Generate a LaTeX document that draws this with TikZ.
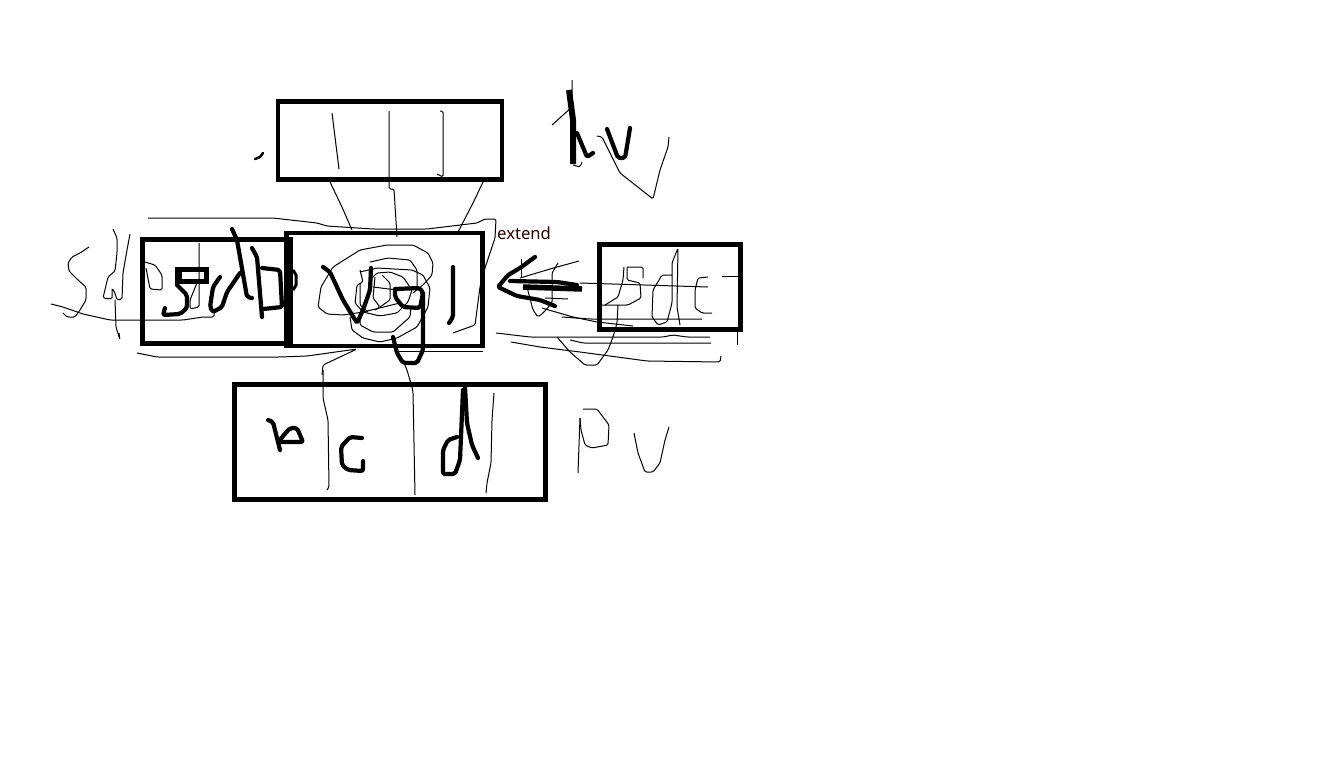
\documentclass[tikz,border=0pt]{standalone}
\usepackage{fontspec}
\newfontfamily\labelfont{Noto Sans}
\tikzset{
  boxframe/.style={draw=black,line width=4.8pt,fill=none,inner sep=0pt,outer sep=0pt},
  thinstroke/.style={draw=black,line width=1pt,line join=round,rounded corners=1.5pt},
  thickstroke/.style={draw=black,line width=4.2pt,line join=round,line cap=round,rounded corners=2pt}
}
\begin{document}
\begin{tikzpicture}[x=1pt,y=-1pt]
\path[use as bounding box,fill=white] (0,0) rectangle (1344,769);

% boxes
\node[boxframe,minimum width=224pt,minimum height=78pt] (topbox) at (390,140.5) {};
\node[boxframe,minimum width=148pt,minimum height=104pt] (leftbox) at (216.5,291.5) {};
\node[boxframe,minimum width=196pt,minimum height=113pt] (midbox) at (384.5,289.5) {};
\node[boxframe,minimum width=141.5pt,minimum height=85pt] (rightbox) at (670,287) {};
\node[boxframe,minimum width=311pt,minimum height=115pt] (bottombox) at (390,442) {};
\node[inner sep=0pt,anchor=base west,text=black!85!red] (extendlabel) at (497,239) {\labelfont\fontsize{16.6}{18}\selectfont extend};

% top box
\draw[thinstroke] (332,113) -- (335,137) -- (339,169);
\draw[thinstroke] (389,111) -- (389,189) -- (394,189) -- (397,237);
\draw[thinstroke] (440,111) -- (443,111) -- (443,177) -- (437,174);
\draw[thinstroke] (330,182) -- (342,207) -- (352,230);
\draw[thinstroke] (483,182) -- (473,203) -- (458,232);
\draw[draw=black,line width=2.5pt,line cap=round] (255,159) -- (260,157) -- (263,153);

% hv
\draw[draw=black,line width=6pt,line join=round] (569,90) -- (573,120) -- (573,164);
\draw[thickstroke] (577,133) -- (587,157) -- (593,153);
\draw[thickstroke] (607,129) -- (618,158) -- (625,158) -- (630,128);
\draw[thinstroke] (572,80) -- (572,107) -- (552,125);
\draw[thinstroke] (573,165) -- (580,167) -- (582,162);
\draw[thinstroke] (597,136) -- (602,137) -- (620,173) -- (653,199) -- (660,170) -- (668,147) -- (669,137);

% left box
\draw[thinstroke] (89,247) -- (80,253) -- (72,257) -- (68,263) -- (69,271) -- (78,280) -- (86,287) -- (86,300) -- (80,310) -- (75,317) -- (67,317) -- (63,313);
\draw[thinstroke] (51,304) -- (63,307) -- (83,314) -- (110,320) -- (183,320) -- (203,317) -- (214,317) -- (214,313);
\draw[thinstroke] (113,229) -- (117,238) -- (117,253) -- (115,271) -- (108,277) -- (103,298) -- (112,299) -- (112,288) -- (115,293) -- (117,300) -- (122,299) -- (123,273) -- (127,250) -- (130,234);
\draw[thinstroke] (115,300) -- (116,327) -- (120,340) -- (119,333);
\draw[thinstroke] (199,243) -- (199,307) -- (190,309) -- (190,300) -- (197,283);
\draw[thinstroke] (145,262) -- (155,265) -- (162,275) -- (162,290) -- (150,289) -- (146,268);
\draw[thinstroke] (148,218) -- (240,218) -- (273,218) -- (317,223) -- (327,226) -- (373,229) -- (427,229) -- (460,225) -- (477,223) -- (485,219) -- (496,219) -- (495,238) -- (485,268) -- (480,287) -- (475,325) -- (453,333);
\draw[thinstroke] (137,353) -- (157,357) -- (280,357) -- (307,356) -- (357,349) -- (323,365) -- (322,375);
\draw[thinstroke] (397,351) -- (483,351);
\draw[draw=black,line width=5pt] (179,269.5) rectangle (206.5,281);
\draw[draw=black,line width=7pt] (178.5,267) -- (178.5,284);
\draw[thickstroke] (177,285) -- (187,295) -- (187,308) -- (180,314) -- (163,315) -- (165,308);
\draw[thickstroke] (220,277) -- (213,287) -- (210,307) -- (213,312) -- (222,307) -- (227,292) -- (240,273);
\draw[thickstroke] (232,229) -- (237,240) -- (247,297) -- (252,298);
\draw[thickstroke] (252,248) -- (257,257) -- (262,317);
\draw[thickstroke] (262,268) -- (280,270) -- (282,307) -- (263,309);
\draw[draw=black,line width=3pt] (293,270) -- (296,275) -- (296,285) -- (293,290);

% middle box
\draw[thinstroke] (400,303) -- (363,312) -- (343,315) -- (327,314) -- (318,307) -- (321,287) -- (333,267) -- (360,250) -- (387,245) -- (413,245) -- (428,253) -- (433,263) -- (432,275) -- (423,285) -- (413,293);
\draw[thinstroke] (370,262) -- (388,258) -- (410,260) -- (417,270) -- (417,290);
\draw[thinstroke] (360,270) -- (363,282) -- (357,285) -- (355,303) -- (363,312) -- (380,316) -- (397,313) -- (408,302) -- (412,290) -- (403,277) -- (390,272) -- (377,273) -- (370,280);
\draw[thinstroke] (350,317) -- (352,330) -- (363,338) -- (380,342) -- (397,338) -- (417,327) -- (428,307) -- (430,288) -- (423,275) -- (412,270) -- (377,268) -- (360,272);
\draw[thinstroke] (360,317) -- (360,325) -- (373,332) -- (393,332) -- (410,317) -- (411,307);
\draw[thinstroke] (375,277) -- (373,298) -- (380,307) -- (375,310);
\draw[thinstroke] (382,275) -- (390,283) -- (390,300) -- (380,307);
\draw[thinstroke] (360,283) -- (360,305) -- (368,312);
\draw[thinstroke] (373,287) -- (397,290);
\draw[thickstroke] (323,267) -- (330,272) -- (343,300) -- (357,323) -- (363,310) -- (370,290) -- (371,268);
\draw[thickstroke] (395,290) -- (395,297) -- (403,307) -- (420,308) -- (423,293) -- (420,288) -- (395,289);
\draw[thickstroke] (423,293) -- (423,350) -- (417,363) -- (403,363) -- (397,353) -- (393,337);
\draw[thickstroke] (453,267) -- (453,317) -- (449,323);

% arrow
\draw[thickstroke] (535,257) -- (520,268) -- (508,275) -- (498,287) -- (517,296) -- (540,300) -- (555,306);
\draw[draw=black,line width=5.5pt] (523,287) -- (582,289);
\draw[thickstroke] (510,281) -- (557,282) -- (577,285);
\draw[thinstroke] (521,259) -- (521,277);
\draw[thinstroke] (520,278) -- (550,269) -- (579,261);
\draw[thinstroke] (558,263) -- (552,273) -- (552,303) -- (543,313) -- (538,317) -- (533,310) -- (527,287);
\draw[thinstroke] (545,298) -- (568,299);
\draw[thinstroke] (542,308) -- (573,317) -- (597,322) -- (633,326);
\draw[thinstroke] (562,317) -- (590,319) -- (702,319);
\draw[thinstroke] (580,283) -- (708,287);

% right box
\draw[thinstroke] (627,267) -- (643,267) -- (643,278);
\draw[thinstroke] (627,267) -- (627,280) -- (640,283) -- (641,298) -- (628,305) -- (602,305);
\draw[thinstroke] (624,267) -- (623,280) -- (618,297) -- (605,305);
\draw[thinstroke] (618,305) -- (617,323) -- (613,337) -- (608,350) -- (597,365) -- (585,365) -- (570,352) -- (557,337);
\draw[thinstroke] (672,275) -- (662,275) -- (653,290) -- (652,317) -- (658,325) -- (667,322) -- (672,303) -- (672,263) -- (678,248) -- (677,307) -- (680,325);
\draw[thinstroke] (708,277) -- (698,278) -- (695,290) -- (695,308) -- (702,313) -- (712,313);
\draw[thinstroke] (722,276) -- (738,276);
\draw[thinstroke] (737,332) -- (737,345);
\draw[thinstroke] (496,333) -- (530,337) -- (663,337) -- (673,335) -- (687,337) -- (710,337);
\draw[thinstroke] (511,342) -- (540,347) -- (580,352) -- (647,361) -- (720,362) -- (721,356);
\draw[thinstroke] (570,340) -- (583,343) -- (711,343);

% bottom box
\draw[thinstroke] (404,363) -- (407,370) -- (412,387) -- (413,392) -- (415,495);
\draw[thinstroke] (323,370) -- (323,398) -- (328,420) -- (329,487) -- (327,490);
\draw[thinstroke] (494,393) -- (492,420) -- (491,463) -- (487,483) -- (486,493);
\draw[thickstroke] (268,420) -- (273,422) -- (280,450);
\draw[thickstroke] (278,442) -- (290,428) -- (297,428) -- (303,442) -- (280,442);
\draw[thickstroke] (362,438) -- (350,437) -- (341,447) -- (342,465) -- (348,470) -- (363,471) -- (363,461);
\draw[thickstroke] (457,437) -- (448,440) -- (443,450) -- (443,474) -- (455,474) -- (460,460) -- (463,390);
\draw[thickstroke] (465,387) -- (467,423) -- (472,445) -- (478,458);

% pv
\draw[thinstroke] (580,418) -- (581,430) -- (585,445) -- (592,448) -- (608,445) -- (609,425) -- (597,409) -- (583,409);
\draw[thinstroke] (580,418) -- (578,473);
\draw[thinstroke] (634,433) -- (638,453) -- (645,472) -- (653,472) -- (660,463) -- (665,440) -- (669,427);
\end{tikzpicture}
\end{document}
